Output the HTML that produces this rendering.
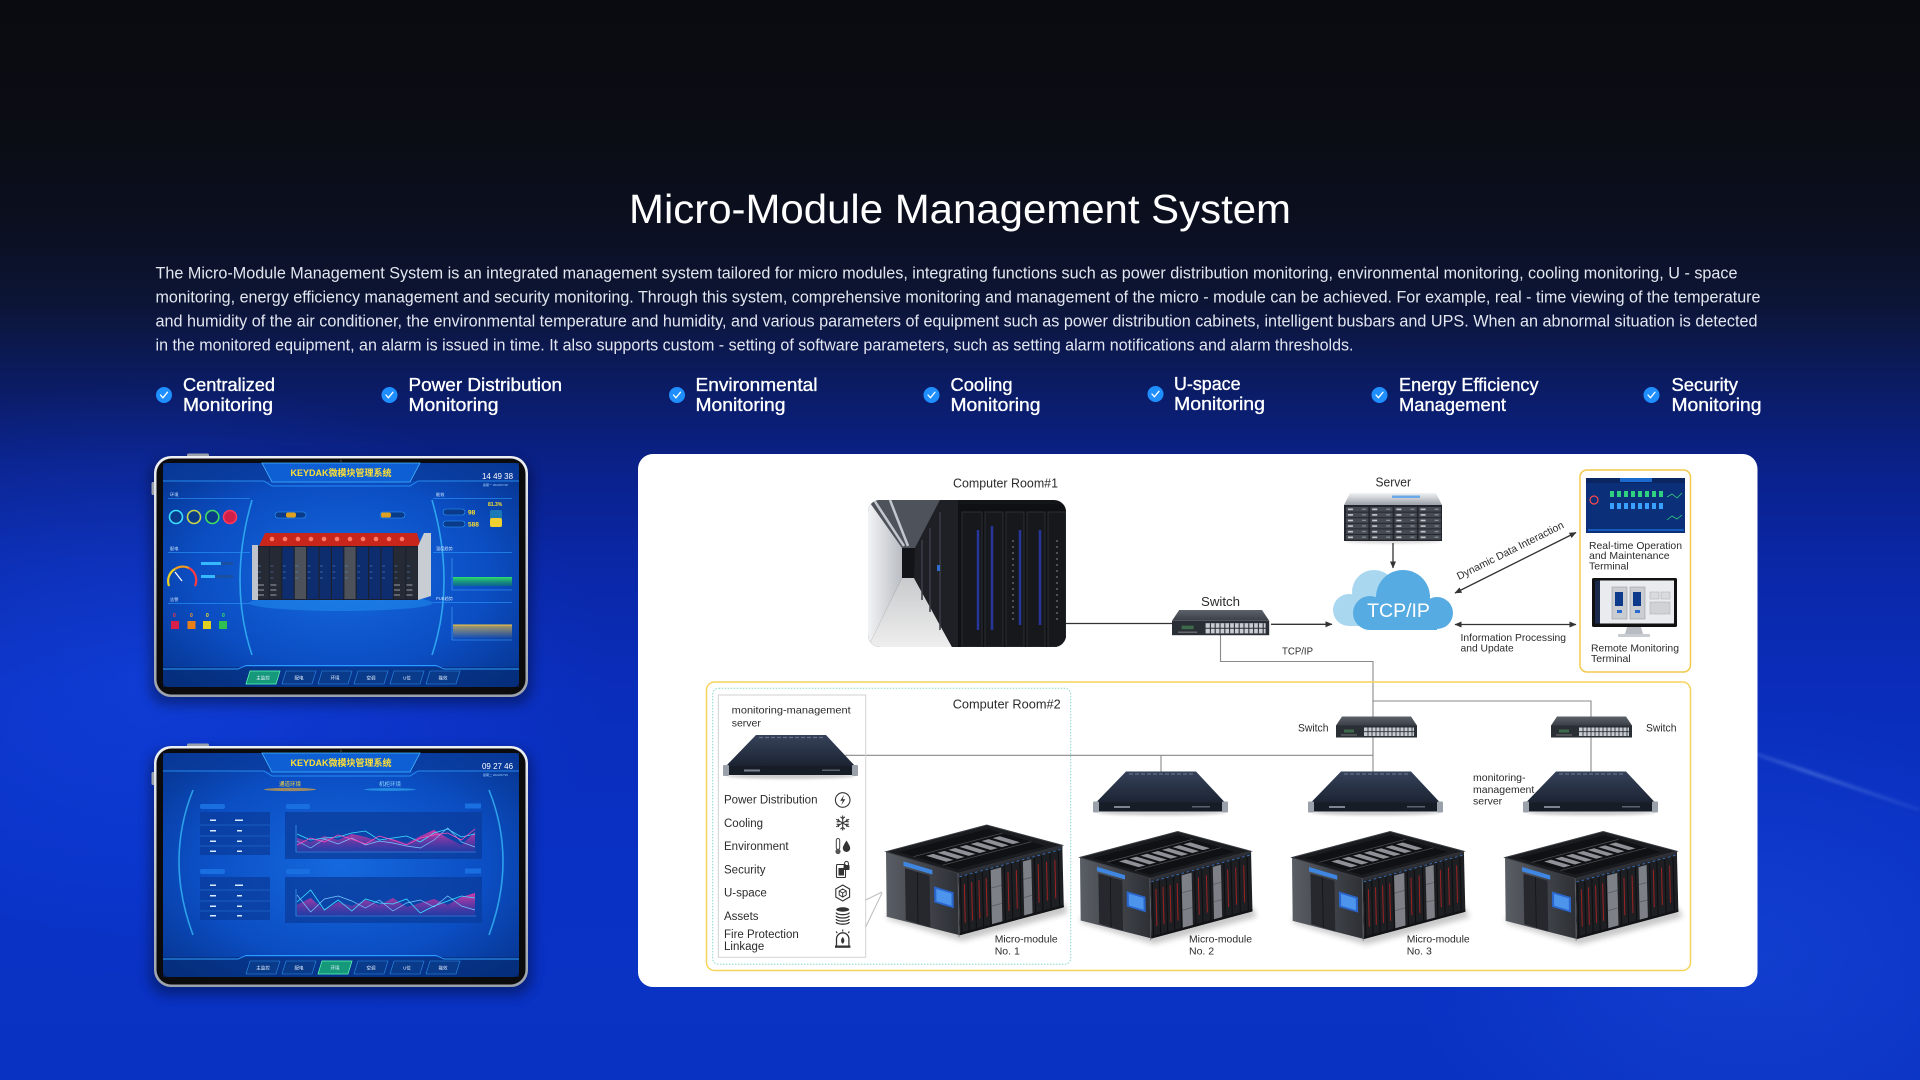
<!DOCTYPE html>
<html><head><meta charset="utf-8">
<style>
html,body{margin:0;padding:0;width:1920px;height:1080px;overflow:hidden;}
body{position:relative;font-family:"Liberation Sans",sans-serif;
background:
radial-gradient(ellipse 460px 300px at 150px 680px,rgba(25,85,255,.38),rgba(25,85,255,0)),
radial-gradient(ellipse 350px 250px at 1750px 950px,rgba(40,95,235,.28),rgba(40,95,235,0)),
linear-gradient(180deg,#0a0b10 0%,#0b0d15 13%,#0b0f20 21%,#0c1536 28%,#0b1b60 35%,#0a2189 43%,#0a27a6 52%,#0a2dbb 64%,#0931c4 80%,#0a32c2 100%);}
svg{position:absolute;left:0;top:0;display:block;}
</style></head><body>
<svg width="1920" height="1080" viewBox="0 0 1920 1080" font-family="Liberation Sans, sans-serif">
<defs>
 <marker id="ah" markerWidth="7" markerHeight="7" refX="6.5" refY="3.5" orient="auto-start-reverse" markerUnits="userSpaceOnUse"><path d="M0,0.5 L7,3.5 L0,6.5 z" fill="#333"/></marker>
 <filter id="bl3" x="-20%" y="-80%" width="140%" height="260%"><feGaussianBlur stdDeviation="3"/></filter>
 <filter id="bl1" x="-20%" y="-200%" width="140%" height="500%"><feGaussianBlur stdDeviation="1.2"/></filter>
 <filter id="bl2" x="-20%" y="-200%" width="140%" height="500%"><feGaussianBlur stdDeviation="1.6"/></filter>
 <filter id="bl6" x="-20%" y="-20%" width="140%" height="140%"><feGaussianBlur stdDeviation="6"/></filter>
 <linearGradient id="streak" x1="0" y1="0" x2="1" y2="0"><stop offset="0" stop-color="#aaccff" stop-opacity="0"/><stop offset=".5" stop-color="#aaccff" stop-opacity=".35"/><stop offset="1" stop-color="#aaccff" stop-opacity=".1"/></linearGradient>
 <linearGradient id="srvTop" x1="0" y1="0" x2="0" y2="1"><stop offset="0" stop-color="#36425a"/><stop offset="1" stop-color="#1c2433"/></linearGradient>
 <linearGradient id="swTop" x1="0" y1="0" x2="0" y2="1"><stop offset="0" stop-color="#5d626b"/><stop offset="1" stop-color="#3a3e45"/></linearGradient>
 <linearGradient id="silver" x1="0" y1="0" x2="0" y2="1"><stop offset="0" stop-color="#f1f3f5"/><stop offset="1" stop-color="#9aa0a8"/></linearGradient>
 <linearGradient id="mmL" x1="0" y1="0" x2="1" y2="0"><stop offset="0" stop-color="#5a5e65"/><stop offset="1" stop-color="#2c2f34"/></linearGradient>
 <linearGradient id="wallG" x1="0" y1="0" x2="1" y2="0"><stop offset="0" stop-color="#f2f3f5"/><stop offset="1" stop-color="#b9bdc3"/></linearGradient>
 <linearGradient id="floorG" x1="0" y1="0" x2="0" y2="1"><stop offset="0" stop-color="#c9cacc"/><stop offset="1" stop-color="#eeeeee"/></linearGradient>
 <radialGradient id="scr" cx="50%" cy="50%" r="70%"><stop offset="0" stop-color="#1569de"/><stop offset=".6" stop-color="#0b4dc2"/><stop offset="1" stop-color="#06338c"/></radialGradient>
 <linearGradient id="pinkF" x1="0" y1="0" x2="0" y2="1"><stop offset="0" stop-color="#ff3aa8" stop-opacity=".85"/><stop offset="1" stop-color="#6a2aa0" stop-opacity=".25"/></linearGradient>
 <linearGradient id="frame" x1="0" y1="0" x2="0" y2="1"><stop offset="0" stop-color="#eceff3"/><stop offset="1" stop-color="#9ca2ab"/></linearGradient>
 <linearGradient id="yelF" x1="0" y1="0" x2="0" y2="1"><stop offset="0" stop-color="#f0c040" stop-opacity=".7"/><stop offset="1" stop-color="#f0c040" stop-opacity="0"/></linearGradient>
 <linearGradient id="grnF" x1="0" y1="0" x2="0" y2="1"><stop offset="0" stop-color="#2ee070"/><stop offset="1" stop-color="#128a50" stop-opacity=".4"/></linearGradient>
 <pattern id="bay" x="1346" y="507" width="24.2" height="5.6" patternUnits="userSpaceOnUse"><rect width="22.4" height="4.6" fill="#464a52"/><rect x="2" y="1.5" width="5" height="1.6" fill="#c8ccd0"/><rect x="16" y="1.6" width="4" height="1.2" fill="#8a9098"/></pattern>
 <clipPath id="phc"><rect x="868" y="500" width="198" height="147" rx="12"/></clipPath>

 <g id="sw">
  <polygon points="6,0 75,0 81,9 0,9" fill="url(#swTop)"/>
  <rect x="0" y="9" width="81" height="12" fill="#2a2e35"/>
  <rect x="28" y="11" width="50" height="8.5" fill="#c9cdd3"/>
  <path d="M28,15.2 H78 M32,11 V19.5 M36,11 V19.5 M40,11 V19.5 M44,11 V19.5 M48,11 V19.5 M52,11 V19.5 M56,11 V19.5 M60,11 V19.5 M64,11 V19.5 M68,11 V19.5 M72,11 V19.5 M76,11 V19.5" stroke="#2a2e35" stroke-width="0.9"/>
  <rect x="8" y="13" width="10" height="3" fill="#3d6a4a"/>
  <rect x="5" y="18" width="16" height="1" fill="#777"/>
 </g>

 <g id="srv">
  <ellipse cx="65" cy="41" rx="64" ry="3" fill="#000" opacity=".2" filter="url(#bl1)"/>
  <polygon points="30,0 100,0 129,31 0,31" fill="url(#srvTop)"/>
  <path d="M33,2.5 H97" stroke="#7a8496" stroke-width="1.2" stroke-dasharray="4 2" opacity=".7"/>
  <rect x="0" y="31" width="129" height="9" fill="#171d27"/>
  <rect x="-3" y="30" width="6" height="11" rx="1" fill="#9aa1aa"/>
  <rect x="126" y="30" width="6" height="11" rx="1" fill="#9aa1aa"/>
  <rect x="18" y="34.5" width="16" height="2" fill="#aab2bf" opacity=".7"/>
  <rect x="96" y="34.5" width="18" height="1.5" fill="#8a93a0" opacity=".6"/>
 </g>

 <g id="mm">
  <polygon points="2,94 76,116 182,88 178,78 74,106 0,88" fill="#000" opacity=".22" filter="url(#bl3)"/>
  <polygon points="0,26.7 72.3,48.3 73.8,110.3 0.7,91.7" fill="url(#mmL)"/>
  <polygon points="72.3,48.3 176.3,20.3 177.8,82.3 73.8,110.3" fill="#1d1f23"/>
  <polygon points="0,26.7 100.7,0 176.3,20.3 72.3,48.3" fill="#1a1c20" stroke="#3b3e44" stroke-width="1"/>
  <g transform="matrix(1.007,-0.267,0.723,0.216,0,26.7)">
   <rect x="6" y="10" width="88" height="80" fill="#101114"/>
   <path d="M6,30 H94 M6,70 H94" stroke="#4a4d53" stroke-width="2"/>
   <g fill="#8e9298">
    <rect x="14" y="36" width="7" height="28"/><rect x="25" y="36" width="7" height="28"/><rect x="36" y="36" width="7" height="28"/><rect x="47" y="36" width="7" height="28"/><rect x="58" y="36" width="7" height="28"/><rect x="69" y="36" width="7" height="28"/><rect x="80" y="36" width="7" height="28"/>
   </g>
  </g>
  <g transform="matrix(1.04,-0.28,0.015,0.62,72.3,48.3)">
   <rect x="0" y="0" width="100" height="5" fill="#2c2f35"/>
   <path d="M1,6 H99" stroke="#3f86e6" stroke-width="1.2" stroke-dasharray="2.5 2.5"/>
   <g fill="#7d8187"><rect x="31" y="9" width="10" height="88"/><rect x="62" y="9" width="8" height="88"/></g>
   <path d="M31,38 H41 M31,67 H41 M62,38 H70 M62,67 H70" stroke="#55595e" stroke-width="1.2"/>
   <g fill="#9a2222"><rect x="5" y="20" width="1" height="62"/><rect x="12" y="20" width="1" height="62"/><rect x="19" y="20" width="1" height="62"/><rect x="26" y="20" width="1" height="62"/><rect x="47" y="20" width="1" height="62"/><rect x="55" y="20" width="1" height="62"/><rect x="76" y="20" width="1" height="62"/><rect x="84" y="20" width="1" height="62"/><rect x="92" y="20" width="1" height="62"/></g>
   <path d="M2,8 V100 M9,8 V100 M16,8 V100 M23,8 V100 M30,8 V100 M44,8 V100 M51,8 V100 M59,8 V100 M73,8 V100 M80,8 V100 M88,8 V100 M96,8 V100" stroke="#0d0e11" stroke-width="1"/>
   <rect x="0" y="96" width="100" height="4" fill="#121316"/>
  </g>
  <g transform="matrix(0.723,0.216,0.01,0.64,0,26.7)">
   <rect x="24" y="7" width="40" height="7" fill="#3f86e0"/>
   <rect x="26" y="17" width="34" height="81" fill="#26282d"/>
   <path d="M43,17 V98" stroke="#111" stroke-width="1"/>
   <rect x="66" y="32" width="27" height="25" fill="#2a66cc"/>
   <rect x="69" y="35" width="21" height="19" fill="#4d94ec"/>
   <path d="M99.5,0 V100" stroke="#60646b" stroke-width="1"/>
  </g>
 </g>

 <g id="tabF">
  <rect x="150" y="460" width="382" height="245" rx="18" fill="#000" opacity=".35" filter="url(#bl6)"/>
  <rect x="187" y="453.5" width="22" height="4" rx="1.5" fill="#9aa0aa"/>
  <rect x="151.5" y="482" width="4" height="13" rx="1.5" fill="#9aa0aa"/>
  <rect x="154" y="456" width="374" height="241" rx="17" fill="url(#frame)"/>
  <rect x="156.5" y="458.5" width="369" height="236" rx="15" fill="#0b0b0d"/>
  <circle cx="341" cy="460.8" r="1.2" fill="#333"/>
 </g>

 <g id="hdr">
  <rect x="163" y="463" width="356" height="18" fill="#0a3a9a" opacity=".7"/>
  <path d="M163,481 H264 L272,486 H410 L418,481 H519" stroke="#2d9cff" stroke-width="1" fill="none" opacity=".8"/>
  <polygon points="262,463 420,463 410,482 272,482" fill="#0f5fd4" stroke="#45b6ff" stroke-width=".8"/>
  <text x="341" y="476" font-size="9" font-weight="bold" fill="#ffe135" text-anchor="middle" font-family="Liberation Sans, Noto Sans CJK SC, sans-serif">KEYDAK微模块管理系统</text>
 </g>

 <g id="nav">
  <rect x="163" y="667" width="356" height="20" fill="#052a6e" opacity=".6"/>
  <path d="M163,669 H238 L246,665.5 H436 L444,669 H519" stroke="#2d9cff" stroke-width=".9" fill="none"/>
  <g fill="#0a3a8a" stroke="#2e8ee8" stroke-width=".6">
   <polygon points="250,671 280,671 276,684 246,684"/><polygon points="286,671 316,671 312,684 282,684"/><polygon points="322,671 352,671 348,684 318,684"/><polygon points="358,671 388,671 384,684 354,684"/><polygon points="394,671 424,671 420,684 390,684"/><polygon points="430,671 460,671 456,684 426,684"/>
  </g>
 </g>
 <g id="navT" font-size="4.5" fill="#e6f2ff" text-anchor="middle" font-family="Liberation Sans, Noto Sans CJK SC, sans-serif">
  <text x="263" y="679.5">主监控</text><text x="299" y="679.5">配电</text><text x="335" y="679.5">环境</text><text x="371" y="679.5">空调</text><text x="407" y="679.5">U位</text><text x="443" y="679.5">能效</text>
 </g>
</defs>

<!-- background streak -->
<line x1="1700" y1="735" x2="1920" y2="810" stroke="url(#streak)" stroke-width="3" filter="url(#bl2)"/>

<!-- ===== TITLE / PARAGRAPH ===== -->
<text x="629" y="223" font-size="41" fill="#ffffff" textLength="662" lengthAdjust="spacingAndGlyphs">Micro-Module Management System</text>
<g font-size="17" fill="#e2e6ef">
<text x="155.5" y="278.5" textLength="1582" lengthAdjust="spacingAndGlyphs">The Micro-Module Management System is an integrated management system tailored for micro modules, integrating functions such as power distribution monitoring, environmental monitoring, cooling monitoring, U - space</text>
<text x="155.5" y="302.5" textLength="1605" lengthAdjust="spacingAndGlyphs">monitoring, energy efficiency management and security monitoring. Through this system, comprehensive monitoring and management of the micro - module can be achieved. For example, real - time viewing of the temperature</text>
<text x="155.5" y="326.5" textLength="1602" lengthAdjust="spacingAndGlyphs">and humidity of the air conditioner, the environmental temperature and humidity, and various parameters of equipment such as power distribution cabinets, intelligent busbars and UPS. When an abnormal situation is detected</text>
<text x="155.5" y="350.5" textLength="1198" lengthAdjust="spacingAndGlyphs">in the monitored equipment, an alarm is issued in time. It also supports custom - setting of software parameters, such as setting alarm notifications and alarm thresholds.</text>
</g>

<!-- ===== FEATURES ===== -->
<g>
 <g fill="#1f8fff">
  <circle cx="164" cy="395" r="8"/><circle cx="389.5" cy="395" r="8"/><circle cx="677" cy="395" r="8"/><circle cx="931.5" cy="395" r="8"/><circle cx="1155.5" cy="394" r="8"/><circle cx="1379.5" cy="395" r="8"/><circle cx="1651.5" cy="395" r="8"/>
 </g>
 <g stroke="#fff" stroke-width="1.3" fill="none" stroke-linecap="round" stroke-linejoin="round">
  <path d="M160.5,395 l2.4,2.8 l4.6,-5.6"/><path d="M386,395 l2.4,2.8 l4.6,-5.6"/><path d="M673.5,395 l2.4,2.8 l4.6,-5.6"/><path d="M928,395 l2.4,2.8 l4.6,-5.6"/><path d="M1152,394 l2.4,2.8 l4.6,-5.6"/><path d="M1376,395 l2.4,2.8 l4.6,-5.6"/><path d="M1648,395 l2.4,2.8 l4.6,-5.6"/>
 </g>
 <g font-size="18.5" fill="#ffffff" stroke="#ffffff" stroke-width="0.35">
  <text x="183" y="391" textLength="92" lengthAdjust="spacingAndGlyphs">Centralized</text>
  <text x="183" y="411" textLength="90" lengthAdjust="spacingAndGlyphs">Monitoring</text>
  <text x="408.5" y="391" textLength="153.5" lengthAdjust="spacingAndGlyphs">Power Distribution</text>
  <text x="408.5" y="411" textLength="90" lengthAdjust="spacingAndGlyphs">Monitoring</text>
  <text x="695.5" y="391" textLength="122" lengthAdjust="spacingAndGlyphs">Environmental</text>
  <text x="695.5" y="411" textLength="90" lengthAdjust="spacingAndGlyphs">Monitoring</text>
  <text x="950.5" y="391" textLength="62" lengthAdjust="spacingAndGlyphs">Cooling</text>
  <text x="950.5" y="411" textLength="90" lengthAdjust="spacingAndGlyphs">Monitoring</text>
  <text x="1174" y="390" textLength="66.5" lengthAdjust="spacingAndGlyphs">U-space</text>
  <text x="1174" y="410" textLength="91" lengthAdjust="spacingAndGlyphs">Monitoring</text>
  <text x="1399" y="391" textLength="139.5" lengthAdjust="spacingAndGlyphs">Energy Efficiency</text>
  <text x="1399" y="411" textLength="107" lengthAdjust="spacingAndGlyphs">Management</text>
  <text x="1671.5" y="391" textLength="66.5" lengthAdjust="spacingAndGlyphs">Security</text>
  <text x="1671.5" y="411" textLength="90" lengthAdjust="spacingAndGlyphs">Monitoring</text>
 </g>
</g>

<!-- ===== TABLET 1 ===== -->
<use href="#tabF"/>
<rect x="163" y="463" width="356" height="224" rx="5" fill="url(#scr)"/>
<path d="M252,500 Q228,583 252,655" stroke="#3cc8ff" stroke-width="1.6" fill="none" opacity=".7"/>
<path d="M432,500 Q456,583 432,655" stroke="#3cc8ff" stroke-width="1.6" fill="none" opacity=".7"/>
<use href="#hdr"/>
<text x="482" y="479" font-size="8.5" fill="#fff" textLength="31" lengthAdjust="spacingAndGlyphs">14 49 38</text>
<text x="483" y="486" font-size="3" fill="#9fd0ff" font-family="Liberation Sans, Noto Sans CJK SC, sans-serif">星期一 2022/07/18</text>
<g font-size="4.2" fill="#cfe6ff" font-family="Liberation Sans, Noto Sans CJK SC, sans-serif">
 <text x="170" y="496">环境</text><text x="170" y="550">配电</text><text x="170" y="601">告警</text>
 <text x="436" y="496">能效</text><text x="436" y="550">温度趋势</text><text x="436" y="600">PUE趋势</text>
</g>
<path d="M168,498.5 H250 M168,552.5 H250 M168,603.5 H250 M433,498.5 H512 M433,552.5 H512 M433,602.5 H512" stroke="#2d9cff" stroke-width=".8" opacity=".8"/>
<g stroke-width="1.6" fill="#0a3a8a">
 <circle cx="176" cy="517" r="6.5" stroke="#3de0ff"/><circle cx="194" cy="517" r="6.5" stroke="#c8d84a"/><circle cx="212.3" cy="517" r="6.5" stroke="#40e060"/><circle cx="230" cy="517" r="6.5" stroke="#ff3a5a" fill="#d0204a"/>
</g>
<path d="M169,586 A14,14 0 0 1 175,569" stroke="#f0d020" stroke-width="2.2" fill="none"/>
<path d="M175,569 A14,14 0 0 1 189,568" stroke="#f09a20" stroke-width="2.2" fill="none"/>
<path d="M189,568 A14,14 0 0 1 195,586" stroke="#ff3a40" stroke-width="2.2" fill="none"/>
<path d="M182,581 L175,572" stroke="#fff" stroke-width="1.2"/>
<rect x="201" y="562" width="32" height="3" fill="#1b4fa0"/><rect x="201" y="562" width="20" height="3" fill="#36b8ff"/>
<rect x="201" y="575" width="32" height="3" fill="#1b4fa0"/><rect x="201" y="575" width="14" height="3" fill="#36b8ff"/>
<g font-size="5" font-weight="bold"><text x="173" y="617" fill="#ff3a3a">0</text><text x="190" y="617" fill="#ff9a2a">0</text><text x="206" y="617" fill="#ffe02a">0</text><text x="222" y="617" fill="#3aea5a">0</text></g>
<rect x="171" y="621" width="8" height="8" fill="#d8204a"/><rect x="187.5" y="621" width="8" height="8" fill="#e8801a"/><rect x="203" y="621" width="8" height="8" fill="#e0d020"/><rect x="219" y="621" width="8" height="8" fill="#30c050"/>
<rect x="275" y="512" width="31" height="6" rx="3" fill="#0a3a8a" stroke="#2d9cff" stroke-width=".6"/><rect x="286" y="512.5" width="10" height="5" rx="2" fill="#e0a020"/>
<rect x="380" y="512" width="25" height="6" rx="3" fill="#0a3a8a" stroke="#2d9cff" stroke-width=".6"/><rect x="381" y="512.5" width="10" height="5" rx="2" fill="#e0a020"/>
<ellipse cx="341" cy="603" rx="92" ry="8" fill="#2aa8ff" opacity=".35"/>
<polygon points="259,546 265,533 417,533 421,546" fill="#c8261a"/>
<g fill="#ff7a6a"><circle cx="272" cy="539" r="2.3"/><circle cx="285" cy="539" r="2.3"/><circle cx="298" cy="539" r="2.3"/><circle cx="311" cy="539" r="2.3"/><circle cx="324" cy="539" r="2.3"/><circle cx="337" cy="539" r="2.3"/><circle cx="350" cy="539" r="2.3"/><circle cx="363" cy="539" r="2.3"/><circle cx="376" cy="539" r="2.3"/><circle cx="389" cy="539" r="2.3"/><circle cx="402" cy="539" r="2.3"/></g>
<rect x="257" y="546" width="161" height="54" fill="#1b2030"/>
<g>
 <rect x="257.6" y="547" width="11.2" height="52" fill="#262a34"/><rect x="270" y="547" width="11.2" height="52" fill="#262a34"/>
 <rect x="282.4" y="547" width="11.2" height="52" fill="#0e2d6e"/><rect x="294.8" y="547" width="11.2" height="52" fill="#4d5159"/>
 <rect x="307.2" y="547" width="11.2" height="52" fill="#0e2d6e"/><rect x="319.6" y="547" width="11.2" height="52" fill="#0e2d6e"/><rect x="332" y="547" width="11.2" height="52" fill="#0e2d6e"/>
 <rect x="344.4" y="547" width="11.2" height="52" fill="#4d5159"/>
 <rect x="356.8" y="547" width="11.2" height="52" fill="#0e2d6e"/><rect x="369.2" y="547" width="11.2" height="52" fill="#0e2d6e"/><rect x="381.6" y="547" width="11.2" height="52" fill="#0e2d6e"/>
 <rect x="394" y="547" width="11.2" height="52" fill="#262a34"/><rect x="406.4" y="547" width="11.2" height="52" fill="#262a34"/>
</g>
<path d="M258,566 H418 M258,572 H418 M258,578 H418" stroke="#6ab0ff" stroke-width=".6" stroke-dasharray="3 9.4" opacity=".8"/>
<path d="M258,585 H282 M394,585 H418 M258,590 H282 M394,590 H418 M258,595 H282 M394,595 H418" stroke="#c0c6d0" stroke-width=".7" stroke-dasharray="6 6.4"/>
<polygon points="418,546 424,533 431,533 431,596 418,600" fill="#c8ccd3"/>
<rect x="252" y="545" width="6" height="55" fill="#bfc4cc"/>
<rect x="443" y="509" width="22" height="6" rx="3" fill="#0a3a8a" stroke="#2d9cff" stroke-width=".6"/>
<rect x="443" y="521" width="22" height="6" rx="3" fill="#0a3a8a" stroke="#2d9cff" stroke-width=".6"/>
<text x="468" y="514.5" font-size="6.5" font-weight="bold" fill="#ffe02a">98</text>
<text x="468" y="526.5" font-size="6.5" font-weight="bold" fill="#ffe02a">588</text>
<text x="488" y="506" font-size="5" font-weight="bold" fill="#ffe02a">81.3%</text>
<rect x="490" y="510" width="12" height="17" rx="2" fill="#1a7ab8"/><rect x="490" y="518" width="12" height="9" rx="2" fill="#f0d030"/>
<path d="M452,558 V590 H512" stroke="#4aa8ff" stroke-width=".6" fill="none"/>
<rect x="453" y="577" width="59" height="9" fill="url(#grnF)"/>
<path d="M452,607 V640 H512" stroke="#4aa8ff" stroke-width=".6" fill="none"/>
<rect x="453" y="625" width="59" height="14" fill="url(#yelF)"/>
<path d="M453,625 H512" stroke="#f5c842" stroke-width="1"/>
<use href="#nav"/>
<polygon points="250,671 280,671 276,684 246,684" fill="#16987a" stroke="#5cffb0" stroke-width=".7"/>
<use href="#navT"/>

<!-- ===== TABLET 2 ===== -->
<use href="#tabF" transform="translate(0,290)"/>
<rect x="163" y="753" width="356" height="224" rx="5" fill="url(#scr)"/>
<path d="M193,790 Q165,860 193,935" stroke="#3cc8ff" stroke-width="1.6" fill="none" opacity=".7"/>
<path d="M489,790 Q517,860 489,935" stroke="#3cc8ff" stroke-width="1.6" fill="none" opacity=".7"/>
<use href="#hdr" transform="translate(0,290)"/>
<text x="482" y="769" font-size="8.5" fill="#fff" textLength="31" lengthAdjust="spacingAndGlyphs">09 27 46</text>
<text x="483" y="776" font-size="3" fill="#9fd0ff" font-family="Liberation Sans, Noto Sans CJK SC, sans-serif">星期二 2022/07/19</text>
<ellipse cx="290" cy="789.5" rx="26" ry="1.6" fill="#ffb020" opacity=".6"/>
<ellipse cx="390" cy="789.5" rx="26" ry="1.4" fill="#3cc8ff" opacity=".5"/>
<g font-size="5.5" text-anchor="middle" font-family="Liberation Sans, Noto Sans CJK SC, sans-serif"><text x="290" y="786" fill="#ffd83a">通道环境</text><text x="390" y="786" fill="#8fd6ff">机柜环境</text></g>
<g fill="#0a3c9c" opacity=".75">
 <rect x="200" y="812" width="70" height="43"/><rect x="200" y="877" width="70" height="43"/>
 <rect x="285" y="812" width="197" height="47"/><rect x="285" y="877" width="197" height="46"/>
</g>
<g fill="#1a6fe0"><rect x="200" y="804" width="25" height="5" rx="2"/><rect x="200" y="869" width="25" height="5" rx="2"/><rect x="286" y="804" width="24" height="5" rx="2"/><rect x="286" y="869" width="24" height="5" rx="2"/><rect x="465" y="803.5" width="16" height="5"/><rect x="465" y="868.5" width="16" height="5"/></g>
<path d="M200,825 H270 M200,836 H270 M200,846 H270 M200,890 H270 M200,901 H270 M200,911 H270" stroke="#2a7ae0" stroke-width=".6"/>
<g fill="#d8ecff"><rect x="210" y="819.5" width="6" height="1.5"/><rect x="235" y="819.5" width="8" height="1.5"/><rect x="210" y="830" width="6" height="1.5"/><rect x="237" y="830" width="5" height="1.5"/><rect x="210" y="840.5" width="6" height="1.5"/><rect x="237" y="840.5" width="5" height="1.5"/><rect x="210" y="850.5" width="6" height="1.5"/><rect x="237" y="850.5" width="5" height="1.5"/>
<rect x="210" y="884.5" width="6" height="1.5"/><rect x="235" y="884.5" width="8" height="1.5"/><rect x="210" y="895" width="6" height="1.5"/><rect x="237" y="895" width="5" height="1.5"/><rect x="210" y="905.5" width="6" height="1.5"/><rect x="237" y="905.5" width="5" height="1.5"/><rect x="210" y="915" width="6" height="1.5"/><rect x="237" y="915" width="5" height="1.5"/></g>
<path d="M296,825 V852 H476 M296,889 V916 H476" stroke="#4aa8ff" stroke-width=".6" fill="none"/>
<polygon fill="url(#pinkF)" points="297,852 297,838 310.7,842 324.4,836 338.1,840 351.8,834 365.5,837 379.2,841 392.9,839 406.6,843 420.3,836 434,830 447.7,838 461.4,845 475,832 475,852"/>
<polyline fill="none" stroke="#3ce0ff" stroke-width=".8" points="297,834 310.7,840 324.4,838 338.1,837 351.8,833 365.5,831 379.2,840 392.9,838 406.6,836 420.3,842 434,833 447.7,829 461.4,837 475,834"/>
<polyline fill="none" stroke="#7ac8ff" stroke-width=".7" points="297,841 310.7,848 324.4,839 338.1,844 351.8,838 365.5,845 379.2,841 392.9,843 406.6,846 420.3,848 434,840 447.7,828 461.4,842 475,847"/>
<polyline fill="none" stroke="#ff4ab8" stroke-width=".8" points="297,845 310.7,838 324.4,842 338.1,835 351.8,839 365.5,844 379.2,836 392.9,840 406.6,845 420.3,838 434,835 447.7,833 461.4,840 475,829"/>
<polygon fill="url(#pinkF)" points="297,916 297,905 310.7,898 324.4,910 338.1,902 351.8,906 365.5,900 379.2,905 392.9,898 406.6,907 420.3,903 434,899 447.7,905 461.4,897 475,893 475,916"/>
<polyline fill="none" stroke="#3ce0ff" stroke-width=".8" points="297,902 310.7,890 324.4,910 338.1,900 351.8,911 365.5,899 379.2,903 392.9,904 406.6,899 420.3,913 434,906 447.7,901 461.4,896 475,898"/>
<polyline fill="none" stroke="#7ac8ff" stroke-width=".7" points="297,895 310.7,912 324.4,899 338.1,896 351.8,901 365.5,908 379.2,900 392.9,911 406.6,903 420.3,900 434,907 447.7,896 461.4,906 475,910"/>
<use href="#nav" transform="translate(0,290)"/>
<polygon points="322,961 352,961 348,974 318,974" fill="#16987a" stroke="#5cffb0" stroke-width=".7"/>
<use href="#navT" transform="translate(0,290)"/>

<!-- ===== DIAGRAM PANEL ===== -->
<rect x="638" y="454" width="1119.5" height="533" rx="15" fill="#ffffff"/>

<!-- room 1 photo -->
<g clip-path="url(#phc)">
 <rect x="868" y="500" width="198" height="147" fill="#131417"/>
 <polygon points="868,500 940,500 915,548 902,548" fill="#4e525a"/>
 <path d="M874,500 L904,546 M890,500 L908,546" stroke="#d8dce2" stroke-width="2.5" opacity=".85"/>
 <polygon points="868,500 902,548 902,578 868,647" fill="url(#wallG)"/>
 <polygon points="868,647 902,578 914,578 952,647" fill="url(#floorG)"/>
 <polygon points="915,548 940,500 958,500 958,647 952,647 914,578" fill="#1e2025"/>
 <path d="M922,540 V600 M930,528 V612 M940,512 V630" stroke="#3a3e46" stroke-width="1.5"/>
 <rect x="958" y="504" width="108" height="143" fill="#0f1013"/>
 <g fill="#16181c" stroke="#2b2e34" stroke-width="1">
  <rect x="962" y="512" width="20" height="135"/><rect x="985" y="512" width="18" height="135"/><rect x="1006" y="512" width="18" height="135"/><rect x="1027" y="512" width="18" height="135"/><rect x="1048" y="512" width="18" height="135"/>
 </g>
 <path d="M978,530 V630 M992,526 V630 M1020,530 V625 M1040,530 V625" stroke="#2b3aa8" stroke-width="2.5" opacity=".9"/>
 <path d="M1013,540 V620 M1057,540 V620" stroke="#d0d4da" stroke-width="1" stroke-dasharray="2 4" opacity=".6"/>
 <rect x="937" y="565" width="3" height="6" fill="#2e6ad0"/>
</g>
<g font-size="12.5" fill="#2b2b2b">
 <text x="953" y="487.5" textLength="105" lengthAdjust="spacingAndGlyphs">Computer Room#1</text>
 <text x="1375.5" y="486.5" textLength="35.5" lengthAdjust="spacingAndGlyphs">Server</text>
 <text x="1201" y="606" textLength="39" lengthAdjust="spacingAndGlyphs">Switch</text>
</g>

<!-- connectors top -->
<path d="M1066,623.5 H1172" stroke="#333" stroke-width="1.3"/>
<line x1="1271" y1="624.3" x2="1332" y2="624.3" stroke="#333" stroke-width="1.3" marker-end="url(#ah)"/>
<line x1="1393" y1="543" x2="1393" y2="568" stroke="#333" stroke-width="1.3" marker-end="url(#ah)"/>
<line x1="1455" y1="593" x2="1576" y2="532.5" stroke="#333" stroke-width="1.3" marker-start="url(#ah)" marker-end="url(#ah)"/>
<line x1="1455" y1="624.5" x2="1576" y2="624.5" stroke="#333" stroke-width="1.3" marker-start="url(#ah)" marker-end="url(#ah)"/>
<text x="1459" y="580" font-size="10.5" fill="#2b2b2b" transform="rotate(-26.5 1459 580)" textLength="118" lengthAdjust="spacingAndGlyphs">Dynamic Data Interaction</text>
<g font-size="10.3" fill="#2b2b2b">
 <text x="1460.5" y="641" textLength="105.5" lengthAdjust="spacingAndGlyphs">Information Processing</text>
 <text x="1460.5" y="651.5">and Update</text>
 <text x="1282" y="654.5" font-size="10" textLength="31" lengthAdjust="spacingAndGlyphs">TCP/IP</text>
</g>
<path d="M1220.5,635 V661.5 H1373 V716.7 M1373,701 H1591 V716.7 M1373,737 V772 M1591,737 V772 M845,755.3 H1373 M1161,755.3 V772" stroke="#8a8a8a" stroke-width="1.1" fill="none"/>

<!-- switch 1 -->
<use href="#sw" transform="translate(1172,610) scale(1.2)"/>

<!-- server tower -->
<ellipse cx="1393" cy="541" rx="48" ry="2.5" fill="#000" opacity=".15" filter="url(#bl1)"/>
<polygon points="1350,493 1436,493 1442,505 1344,505" fill="url(#silver)"/>
<rect x="1392" y="495.5" width="28" height="2.5" fill="#6aa8e8"/>
<rect x="1344" y="505" width="98" height="36" fill="#22252b"/>
<rect x="1345" y="506.5" width="96" height="33.5" fill="url(#bay)"/>

<!-- cloud -->
<g>
 <circle cx="1374" cy="592" r="22" fill="#a9d7ef"/>
 <circle cx="1349" cy="610" r="16" fill="#a9d7ef"/>
 <rect x="1349" y="600" width="34" height="26" fill="#a9d7ef"/>
 <circle cx="1403" cy="597" r="27" fill="#56abe2"/>
 <circle cx="1370" cy="613" r="17" fill="#56abe2"/>
 <circle cx="1437" cy="613" r="16" fill="#56abe2"/>
 <rect x="1370" y="605" width="67" height="25" fill="#56abe2"/>
 <text x="1398.5" y="617" font-size="19.5" fill="#ffffff" text-anchor="middle">TCP/IP</text>
</g>

<!-- terminals box -->
<rect x="1580" y="470" width="110.5" height="202" rx="7" fill="none" stroke="#f2c94c" stroke-width="1.5"/>
<rect x="1586" y="478" width="99" height="55" fill="#0b2f78"/>
<rect x="1586" y="478" width="99" height="5" fill="#0a2560"/>
<rect x="1620" y="478" width="32" height="4" fill="#1a6ad0"/>
<circle cx="1594" cy="500" r="4" fill="none" stroke="#ff4a4a" stroke-width="1.2"/>
<g fill="#2fd080"><rect x="1610" y="491" width="4" height="6"/><rect x="1617" y="491" width="4" height="6"/><rect x="1624" y="491" width="4" height="6"/><rect x="1631" y="491" width="4" height="6"/><rect x="1638" y="491" width="4" height="6"/><rect x="1645" y="491" width="4" height="6"/><rect x="1652" y="491" width="4" height="6"/><rect x="1659" y="491" width="4" height="6"/></g>
<g fill="#3aa0ff"><rect x="1610" y="503" width="4" height="6"/><rect x="1617" y="503" width="4" height="6"/><rect x="1624" y="503" width="4" height="6"/><rect x="1631" y="503" width="4" height="6"/><rect x="1638" y="503" width="4" height="6"/><rect x="1645" y="503" width="4" height="6"/><rect x="1652" y="503" width="4" height="6"/><rect x="1659" y="503" width="4" height="6"/></g>
<path d="M1667,497 L1672,494 L1677,498 L1682,493 M1667,520 L1672,516 L1677,519 L1682,515" stroke="#2fd080" stroke-width=".8" fill="none"/>
<path d="M1588,530 H1684" stroke="#1a6ad0" stroke-width="1.5"/>
<rect x="1592" y="578" width="85" height="49" rx="1.5" fill="#111"/>
<rect x="1595" y="580.5" width="79" height="43" fill="#e9ebee"/>
<rect x="1595" y="580.5" width="5" height="43" fill="#1b2a4a"/>
<rect x="1612" y="587" width="15" height="32" fill="#c9ccd0" stroke="#9a9ea4" stroke-width=".6"/>
<rect x="1615" y="592" width="8" height="14" fill="#0d3a8a"/>
<rect x="1630" y="587" width="15" height="32" fill="#c9ccd0" stroke="#9a9ea4" stroke-width=".6"/>
<rect x="1633" y="592" width="8" height="14" fill="#0d3a8a"/>
<rect x="1617" y="610" width="5" height="3" fill="#2a6ad0"/><rect x="1635" y="610" width="5" height="3" fill="#2a6ad0"/>
<rect x="1650" y="592" width="9" height="7" fill="#d8dadd" stroke="#aaa" stroke-width=".5"/><rect x="1661" y="592" width="9" height="7" fill="#d8dadd" stroke="#aaa" stroke-width=".5"/><rect x="1650" y="602" width="20" height="12" fill="#d0d3d6" stroke="#aaa" stroke-width=".5"/>
<polygon points="1627,627 1641,627 1643,634 1625,634" fill="#b8bcc2"/>
<rect x="1618" y="634" width="32" height="3" rx="1" fill="#c8ccd0"/>
<g font-size="10.5" fill="#2b2b2b">
 <text x="1589" y="549" textLength="93" lengthAdjust="spacingAndGlyphs">Real-time Operation</text>
 <text x="1589" y="559">and Maintenance</text>
 <text x="1589" y="569.5">Terminal</text>
 <text x="1591" y="651.5" textLength="88" lengthAdjust="spacingAndGlyphs">Remote Monitoring</text>
 <text x="1591" y="662">Terminal</text>
</g>

<!-- room 2 boxes -->
<rect x="706.5" y="682" width="984" height="288.5" rx="8" fill="none" stroke="#f5d35a" stroke-width="1.5"/>
<rect x="712.7" y="688.3" width="358" height="276" rx="6" fill="none" stroke="#86d8c8" stroke-width="1" stroke-dasharray="1.5 1.5"/>
<rect x="718.3" y="695" width="147.4" height="262.3" fill="none" stroke="#d2d2d2" stroke-width="1"/>
<path d="M865.7,900 L882,892 M865.7,927 L882,893" stroke="#bdbdbd" stroke-width="1" fill="none"/>
<text x="952.7" y="708.5" font-size="13" fill="#2b2b2b" textLength="108" lengthAdjust="spacingAndGlyphs">Computer Room#2</text>
<g font-size="10.5" fill="#2b2b2b">
 <text x="731.7" y="713.5" textLength="119" lengthAdjust="spacingAndGlyphs">monitoring-management</text>
 <text x="731.7" y="726.5">server</text>
 <text x="1473" y="781">monitoring-</text>
 <text x="1473" y="793">management</text>
 <text x="1473" y="804.5">server</text>
 <text x="994.7" y="942.5" textLength="63" lengthAdjust="spacingAndGlyphs">Micro-module</text>
 <text x="994.7" y="954.5">No. 1</text>
 <text x="1189" y="942.5" textLength="63" lengthAdjust="spacingAndGlyphs">Micro-module</text>
 <text x="1189" y="954.5">No. 2</text>
 <text x="1406.7" y="942.5" textLength="63" lengthAdjust="spacingAndGlyphs">Micro-module</text>
 <text x="1406.7" y="954.5">No. 3</text>
</g>
<g font-size="11" fill="#2b2b2b">
 <text x="1298" y="731.5" textLength="30.5" lengthAdjust="spacingAndGlyphs">Switch</text>
 <text x="1646" y="731.5" textLength="30.5" lengthAdjust="spacingAndGlyphs">Switch</text>
</g>
<g font-size="11.5" fill="#2b2b2b">
 <text x="724" y="803.5" textLength="93.5" lengthAdjust="spacingAndGlyphs">Power Distribution</text>
 <text x="724" y="827">Cooling</text>
 <text x="724" y="850">Environment</text>
 <text x="724" y="873.5">Security</text>
 <text x="724" y="896.5">U-space</text>
 <text x="724" y="920">Assets</text>
 <text x="724" y="938">Fire Protection</text>
 <text x="724" y="950">Linkage</text>
</g>

<!-- icons -->
<circle cx="842.7" cy="800" r="7.3" fill="none" stroke="#333" stroke-width="1.1"/>
<path d="M844.2,794.8 L840.2,800.8 L842.8,800.8 L841.3,805.2 L845.3,799.2 L842.7,799.2 Z" fill="#333"/>
<g stroke="#3a3a3a" stroke-width="1.1" fill="none">
 <path d="M842.7,815.5 V830.5 M836.2,819.2 L849.2,826.8 M836.2,826.8 L849.2,819.2"/>
 <path d="M840.5,816.8 L842.7,818.7 L844.9,816.8 M840.5,829.2 L842.7,827.3 L844.9,829.2 M836.6,821.8 L839.3,821.6 L838.2,819 M848.8,824.2 L846.1,824.4 L847.2,827 M836.6,824.2 L839.3,824.4 L838.2,827 M848.8,821.8 L846.1,821.6 L847.2,819"/>
</g>
<rect x="836.3" y="838.5" width="3.4" height="11" rx="1.7" fill="none" stroke="#444" stroke-width="1"/>
<circle cx="838" cy="851.5" r="2.6" fill="#555"/>
<path d="M846.5,840.5 C844,844.5 842.8,846.5 842.8,848.3 A3.7,3.7 0 0 0 850.2,848.3 C850.2,846.5 849,844.5 846.5,840.5 Z" fill="#333"/>
<rect x="836.5" y="864.5" width="9" height="13" rx="1" fill="none" stroke="#333" stroke-width="1.1"/>
<rect x="838.5" y="868" width="5.5" height="7.5" fill="#333"/>
<rect x="843.5" y="865" width="6" height="5" rx=".8" fill="#333"/>
<path d="M844.6,865 V863.3 A1.9,1.9 0 0 1 848.4,863.3 V865" stroke="#333" stroke-width="1" fill="none"/>
<polygon points="842.7,885 849.6,889 849.6,897 842.7,901 835.8,897 835.8,889" fill="none" stroke="#333" stroke-width="1.1"/>
<path d="M842.7,889 L846.2,891 L846.2,895 L842.7,897 L839.2,895 L839.2,891 Z M842.7,893 L846.2,891 M842.7,893 L839.2,891 M842.7,893 V897" fill="none" stroke="#333" stroke-width="1"/>
<ellipse cx="842.7" cy="909.5" rx="6.5" ry="2.2" fill="#333"/>
<path d="M836.2,912.5 A6.5,2.2 0 0 0 849.2,912.5 M836.2,915.8 A6.5,2.2 0 0 0 849.2,915.8 M836.2,919 A6.5,2.2 0 0 0 849.2,919 M836.2,922 A6.5,2.2 0 0 0 849.2,922" stroke="#333" stroke-width="1.3" fill="none"/>
<path d="M836.5,946 V939 A6.2,6.2 0 0 1 848.9,939 V946" fill="none" stroke="#333" stroke-width="1.3"/>
<rect x="835" y="945.5" width="15.4" height="2.3" fill="#333"/>
<path d="M842.7,937 C840.5,939.5 840.5,942 842.7,943.8 C844.9,942 844.9,939.5 842.7,937 Z" fill="#333"/>
<path d="M842.7,929.5 V931.5 M836,931.5 L837.3,933 M849.4,931.5 L848.1,933" stroke="#333" stroke-width="1.1"/>

<!-- devices room 2 -->
<use href="#srv" transform="translate(726,735)"/>
<use href="#srv" transform="translate(1096,771.5)"/>
<use href="#srv" transform="translate(1311,771.5)"/>
<use href="#srv" transform="translate(1526,771.5)"/>
<use href="#sw" transform="translate(1336,716.5)"/>
<use href="#sw" transform="translate(1551,716.5)"/>
<use href="#mm" transform="translate(886,825)"/>
<use href="#mm" transform="translate(1080,831.5) scale(0.97)"/>
<use href="#mm" transform="translate(1292,831.5) scale(0.975)"/>
<use href="#mm" transform="translate(1505,831.5) scale(0.975)"/>
</svg>
</body></html>
